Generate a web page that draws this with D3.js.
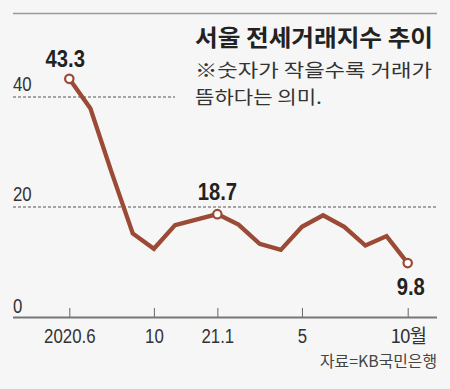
<!DOCTYPE html>
<html>
<head>
<meta charset="utf-8">
<script src="https://cdn.jsdelivr.net/npm/d3@7"></script>
<style>
  html, body { margin: 0; padding: 0; background: #f6f6f6; }
  svg { display: block; }
  .num { font-family: "Liberation Sans", Arial, sans-serif; }
  .kr { font-family: "Noto Sans CJK KR", sans-serif; }
</style>
</head>
<body>
<svg width="450" height="389"></svg>
<script>
// monthly index, 2020.6 to 2021.10
var months = ['2020.6', '2020.7', '2020.8', '2020.9', '2020.10', '2020.11', '2020.12',
    '2021.1', '2021.2', '2021.3', '2021.4', '2021.5', '2021.6', '2021.7', '2021.8', '2021.9', '2021.10'];
var values = [43.3, 37.9, 26.3, 15.2, 12.4, 16.7, 17.7, 18.7, 16.8, 13.3, 12.2, 16.4, 18.5, 16.4, 13.0, 14.7, 9.8];

var tickMonths = ['2020.6', '2020.10', '2021.1', '2021.5', '2021.10'];
var tickLabels = ['2020.6', '10', '21.1', '5', '10월'];
var yTicks = [0, 20, 40];

// highlighted points with their labels
var marked = ['2020.6', '2021.1', '2021.10'];
var markedLabels = ['43.3', '18.7', '9.8'];

var svg = d3.select('svg');
var color = '#9a4a35';

// squeeze text horizontally (the original uses a condensed face)
function squeeze(sel, factor) {
    sel.each(function() {
        var w = this.getComputedTextLength();
        d3.select(this)
            .attr('textLength', w * factor)
            .attr('lengthAdjust', 'spacingAndGlyphs');
    });
}
function fitTo(sel, width) {
    sel.attr('textLength', width).attr('lengthAdjust', 'spacingAndGlyphs');
}

var x = d3.scalePoint()
    .domain(months)
    .range([69.3, 407.7]);

var y = d3.scaleLinear()
    .domain([0, 40])
    .range([317, 97]);

// top rule
svg.append('line')
    .attr('x1', 13).attr('x2', 437)
    .attr('y1', 13.5).attr('y2', 13.5)
    .attr('stroke', '#9a9a9a')
    .attr('stroke-width', 1.5);

// dashed gridlines (40 line stops short of the title)
svg.selectAll('.grid')
    .data(yTicks.filter(function(d) { return d > 0; }))
    .enter().append('line')
    .attr('class', 'grid')
    .attr('x1', 13)
    .attr('x2', function(d) { return d === 40 ? 175 : 437; })
    .attr('y1', function(d) { return y(d); })
    .attr('y2', function(d) { return y(d); })
    .attr('stroke', '#555')
    .attr('stroke-width', 1)
    .attr('stroke-dasharray', '3,2');

// y labels
svg.selectAll('.ylab')
    .data(yTicks)
    .enter().append('text')
    .attr('class', 'ylab num')
    .attr('x', 13)
    .attr('y', function(d) { return y(d) - (d === 0 ? 4 : 6); })
    .attr('font-size', 20)
    .attr('fill', '#333')
    .text(function(d) { return d; })
    .call(squeeze, 0.84);

// x axis
var axis = d3.axisTop(x)
    .tickValues(tickMonths)
    .tickSize(9)
    .tickFormat(function(d) { return tickLabels[tickMonths.indexOf(d)]; });

var axisG = svg.append('g')
    .attr('transform', 'translate(0,' + y(0) + ')')
    .call(axis);

axisG.select('.domain').remove();
axisG.selectAll('.tick line')
    .attr('stroke', '#666')
    .attr('stroke-width', 1);
axisG.selectAll('.tick text')
    .attr('class', 'num')
    .attr('y', 26)
    .attr('dy', 0)
    .attr('font-size', 20)
    .attr('fill', '#333');
axisG.selectAll('.tick text')
    .filter(function(d) { return d === '2021.10'; })
    .attr('class', 'kr')
    .attr('font-size', 19)
    .attr('letter-spacing', -1);
axisG.selectAll('.tick text')
    .filter(function(d) { return d !== '2021.10'; })
    .call(squeeze, 0.84);

svg.append('line')
    .attr('x1', 13).attr('x2', 437)
    .attr('y1', y(0) + 0.5).attr('y2', y(0) + 0.5)
    .attr('stroke', '#777')
    .attr('stroke-width', 2);

// line
var line = d3.line()
    .x(function(d, i) { return x(months[i]); })
    .y(function(d) { return y(d); });

svg.append('path')
    .datum(values)
    .attr('d', line)
    .attr('fill', 'none')
    .attr('stroke', color)
    .attr('stroke-width', 4.3)
    .attr('stroke-linejoin', 'miter');

// marked points
svg.selectAll('.dot')
    .data(marked)
    .enter().append('circle')
    .attr('class', 'dot')
    .attr('cx', function(d) { return x(d); })
    .attr('cy', function(d) { return y(values[months.indexOf(d)]); })
    .attr('r', 4.2)
    .attr('fill', '#fff')
    .attr('stroke', color)
    .attr('stroke-width', 2.2);

var labelOffset = { '2020.6': [-4, -12], '2021.1': [0, -14], '2021.10': [3, 32] };

svg.selectAll('.vlab')
    .data(marked)
    .enter().append('text')
    .attr('class', 'vlab num')
    .attr('x', function(d) { return x(d) + labelOffset[d][0]; })
    .attr('y', function(d) { return y(values[months.indexOf(d)]) + labelOffset[d][1]; })
    .attr('text-anchor', 'middle')
    .attr('font-size', 23)
    .attr('font-weight', 'bold')
    .attr('fill', '#222')
    .text(function(d, i) { return markedLabels[i]; })
    .call(squeeze, 0.88);

// title block
svg.append('text')
    .attr('class', 'kr')
    .attr('x', 195).attr('y', 46)
    .attr('font-size', 22.5)
    .attr('font-weight', 'bold')
    .attr('fill', '#222')
    .text('서울 전세거래지수 추이')
    .call(fitTo, 238);

svg.append('text')
    .attr('class', 'kr')
    .attr('x', 195).attr('y', 77)
    .attr('font-size', 18.5)
    .attr('fill', '#333')
    .text('※숫자가 작을수록 거래가')
    .call(fitTo, 237);

svg.append('text')
    .attr('class', 'kr')
    .attr('x', 195).attr('y', 104)
    .attr('font-size', 18.5)
    .attr('fill', '#333')
    .text('뜸하다는 의미.')
    .call(fitTo, 127);

// source
svg.append('text')
    .attr('class', 'kr')
    .attr('x', 437).attr('y', 367)
    .attr('text-anchor', 'end')
    .attr('font-size', 15.5)
    .attr('fill', '#444')
    .text('자료=KB국민은행')
    .call(fitTo, 117);
</script>
</body>
</html>
